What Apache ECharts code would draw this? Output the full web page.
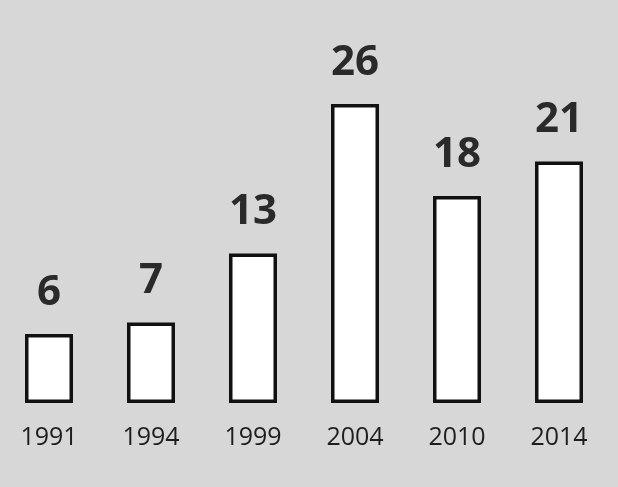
<!DOCTYPE html>
<html><head><meta charset="utf-8">
<script src="https://cdn.jsdelivr.net/npm/echarts@6/dist/echarts.min.js"></script>
<style>html,body{margin:0;padding:0;background:#d7d7d7}#c{width:618px;height:487px}</style>
</head><body><div id="c"></div>
<script>
const categories = ['1991','1994','1999','2004','2010','2014'];
const values = [6, 7, 13, 26, 18, 21];

const chart = echarts.init(document.getElementById('c'));
chart.setOption({
  backgroundColor: '#d7d7d7',
  animation: false,
  grid: { left: -2, right: 8, top: 58, bottom: 84, outerBoundsMode: 'none', containLabel: false },
  xAxis: {
    type: 'category', data: categories,
    axisLine: { show: false }, axisTick: { show: false },
    axisLabel: { color: '#1e1e1e', fontSize: 25, fontFamily: 'Open Sans', margin: 22 }
  },
  yAxis: { type: 'value', min: 0, max: 30, show: false, splitLine: { show: false } },
  series: [{
    type: 'bar', data: values, barWidth: 48,
    itemStyle: { color: '#fff', borderColor: '#111', borderWidth: 3.5 },
    label: { show: true, position: 'top', distance: 20, color: '#2a2a2a',
      fontSize: 42, fontWeight: 'bold', fontFamily: 'Open Sans' }
  }]
});
</script></body></html>
